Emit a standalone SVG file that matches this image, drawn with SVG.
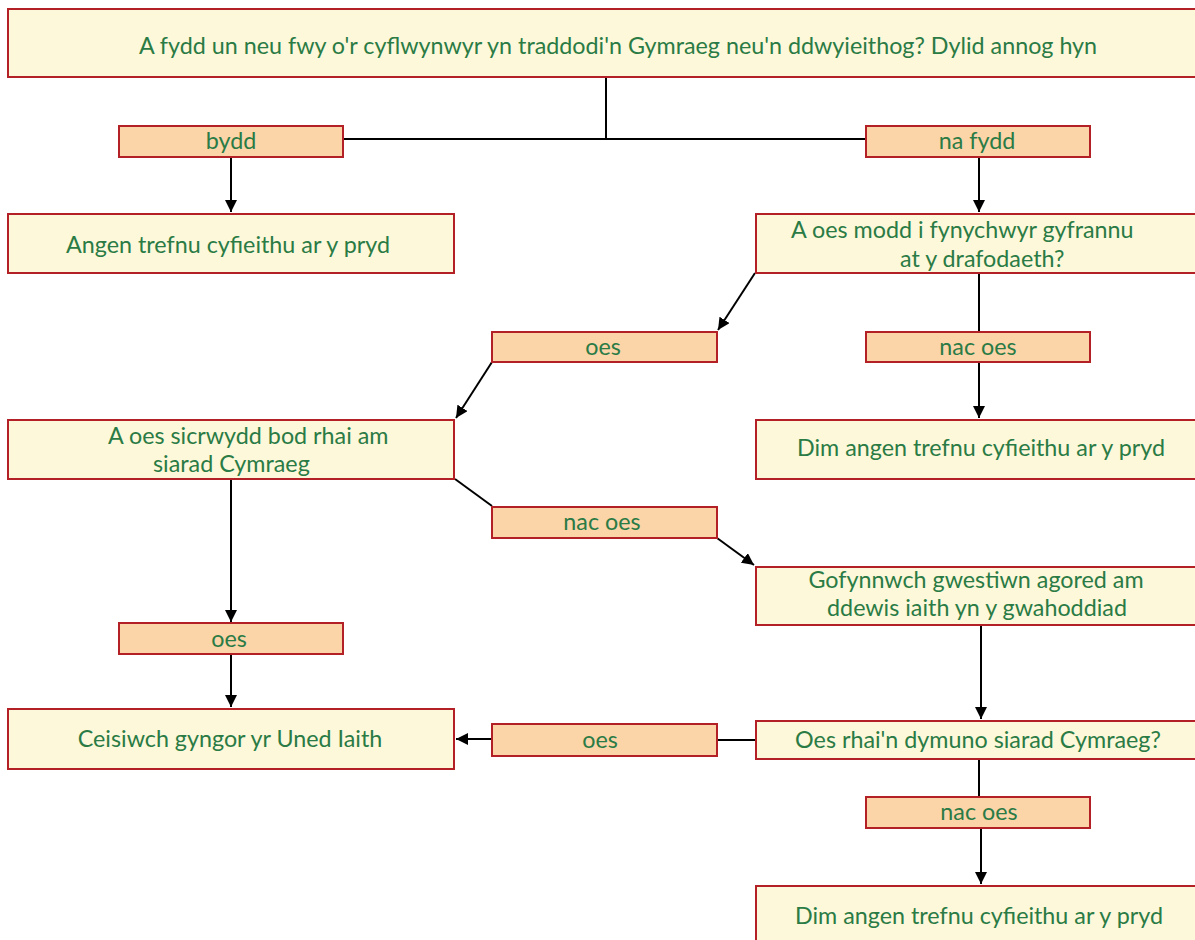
<svg xmlns="http://www.w3.org/2000/svg" width="1195" height="940" viewBox="0 0 1195 940">
<style>
.box{fill:#FDF8D9;stroke:#B32025;stroke-width:2}
.lbl{fill:#FBD4A8;stroke:#B32025;stroke-width:2}
text{font-family:Lato,"Open Sans","DejaVu Sans",sans-serif;font-size:23.3px;fill:#2A7B45}
.c{text-anchor:middle}
.ln{fill:none;stroke:#000;stroke-width:2}
</style>
<defs>
<marker id="ah" viewBox="0 0 10 10" refX="10" refY="5" markerWidth="6" markerHeight="6" orient="auto" markerUnits="strokeWidth">
<path d="M0,0 L10,5 L0,10 z" fill="#000"/>
</marker>
</defs>
<rect width="1195" height="940" fill="#fff"/>
<g id="connectors">
<path class="ln" d="M606,77 V139 M343,139 H865"/>
<path class="ln" d="M231,157 V212" marker-end="url(#ah)"/>
<path class="ln" d="M979,157 V212" marker-end="url(#ah)"/>
<path class="ln" d="M755,273 L718,330" marker-end="url(#ah)"/>
<path class="ln" d="M492,362 L456,418" marker-end="url(#ah)"/>
<path class="ln" d="M979,273 V331"/>
<path class="ln" d="M979,362 V418" marker-end="url(#ah)"/>
<path class="ln" d="M455,479 L492,506"/>
<path class="ln" d="M717,538 L754,565" marker-end="url(#ah)"/>
<path class="ln" d="M231,479 V622" marker-end="url(#ah)"/>
<path class="ln" d="M231,655 V707" marker-end="url(#ah)"/>
<path class="ln" d="M981,625 V719" marker-end="url(#ah)"/>
<path class="ln" d="M755,740 H717"/>
<path class="ln" d="M492,739 H456" marker-end="url(#ah)"/>
<path class="ln" d="M979,759 V797"/>
<path class="ln" d="M981,829 V884" marker-end="url(#ah)"/>
</g>
<g id="n-top"><rect class="box" x="8" y="9" width="1195" height="68"/><text class="c" x="618" y="54">A fydd un neu fwy o'r cyflwynwyr yn traddodi'n Gymraeg neu'n ddwyieithog? Dylid annog hyn</text></g>
<g id="l-bydd"><rect class="lbl" x="119" y="126" width="224" height="31"/><text class="c" x="231" y="149">bydd</text></g>
<g id="l-nafydd"><rect class="lbl" x="866" y="126" width="224" height="31"/><text class="c" x="977" y="149">na fydd</text></g>
<g id="n-angen"><rect class="box" x="8" y="214" width="446" height="59"/><text class="c" x="228" y="253">Angen trefnu cyfieithu ar y pryd</text></g>
<g id="n-modd"><rect class="box" x="756" y="214" width="450" height="59"/><text x="791" y="238">A oes modd i fynychwyr gyfrannu</text><text x="900" y="267">at y drafodaeth?</text></g>
<g id="l-oes1"><rect class="lbl" x="492" y="332" width="225" height="30"/><text class="c" x="603" y="355">oes</text></g>
<g id="l-nacoes1"><rect class="lbl" x="866" y="332" width="224" height="30"/><text class="c" x="978" y="355">nac oes</text></g>
<g id="n-sicrwydd"><rect class="box" x="8" y="420" width="446" height="59"/><text x="108" y="444">A oes sicrwydd bod rhai am</text><text x="153" y="472">siarad Cymraeg</text></g>
<g id="n-dim1"><rect class="box" x="756" y="420" width="450" height="59"/><text class="c" x="981" y="456">Dim angen trefnu cyfieithu ar y pryd</text></g>
<g id="l-nacoes2"><rect class="lbl" x="492" y="507" width="225" height="31"/><text class="c" x="602" y="530">nac oes</text></g>
<g id="n-gofynnwch"><rect class="box" x="756" y="567" width="450" height="58"/><text class="c" x="976" y="588">Gofynnwch gwestiwn agored am</text><text class="c" x="977" y="616">ddewis iaith yn y gwahoddiad</text></g>
<g id="l-oes2"><rect class="lbl" x="119" y="623" width="224" height="31"/><text class="c" x="229" y="647">oes</text></g>
<g id="n-ceisiwch"><rect class="box" x="8" y="709" width="446" height="60"/><text class="c" x="230" y="747">Ceisiwch gyngor yr Uned Iaith</text></g>
<g id="n-oesrhai"><rect class="box" x="756" y="721" width="450" height="38"/><text class="c" x="978" y="748">Oes rhai'n dymuno siarad Cymraeg?</text></g>
<g id="l-oes3"><rect class="lbl" x="492" y="724" width="225" height="32"/><text class="c" x="600" y="748">oes</text></g>
<g id="l-nacoes3"><rect class="lbl" x="866" y="797" width="224" height="31"/><text class="c" x="979" y="820">nac oes</text></g>
<g id="n-dim2"><rect class="box" x="756" y="886" width="450" height="70"/><text class="c" x="979" y="924">Dim angen trefnu cyfieithu ar y pryd</text></g>
</svg>
